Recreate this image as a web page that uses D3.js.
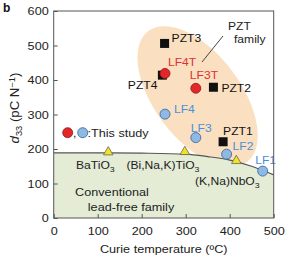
<!DOCTYPE html>
<html>
<head>
<meta charset="utf-8">
<script src="https://cdn.jsdelivr.net/npm/d3@7"></script>
<style>
  body { margin: 0; background: #fff; }
  svg { display: block; }
  text { font-family: "Liberation Sans", Arial, sans-serif; }
</style>
</head>
<body>
<div id="chart"></div>
<script>
// PZT ceramics (black squares)
var pztNames = ['PZT3', 'PZT4', 'PZT2', 'PZT1'];
var pztTc = [252, 247, 363, 385];
var pztD33 = [506, 414, 379, 221];

// this study, textured (red)
var lftNames = ['LF4T', 'LF3T'];
var lftTc = [253, 323];
var lftD33 = [419, 376];

// this study, untextured (blue)
var lfNames = ['LF4', 'LF3', 'LF2', 'LF1'];
var lfTc = [253, 323, 393, 475];
var lfD33 = [301, 233, 185, 136];

// conventional lead-free (yellow triangles)
var leadFreeTc = [124, 298, 415];
var leadFreeD33 = [188, 189, 163];

// boundary of the conventional lead-free region
var boundTc = [0, 100, 200, 300, 350, 400, 450, 500];
var boundD33 = [189, 189, 188, 185, 178, 168, 150, 125];

var xTicks = [0, 100, 200, 300, 400, 500];
var yTicks = [0, 100, 200, 300, 400, 500, 600];

var W = 286, H = 257;
var sx = 1.1; // text in the figure is a bit wide
var margin = {left: 53.7, right: 12.3, top: 11, bottom: 39};

var svg = d3.select('#chart').append('svg')
	.attr('width', W)
	.attr('height', H);

var x = d3.scaleLinear().domain([0, 500]).range([margin.left, W - margin.right]);
var y = d3.scaleLinear().domain([0, 600]).range([H - margin.bottom, margin.top]);

function label(g, px, py, str, color, anchor, size) {
	return g.append('text')
		.attr('transform', 'translate(' + px + ',' + py + ') scale(' + sx + ',1)')
		.attr('font-size', (size || 11) + 'px')
		.attr('fill', color || '#222')
		.attr('text-anchor', anchor || 'start')
		.text(str);
}

var plot = svg.append('g');

// clip to the frame
svg.append('defs').append('clipPath').attr('id', 'frame')
	.append('rect')
	.attr('x', x(0)).attr('y', y(600))
	.attr('width', x(500) - x(0)).attr('height', y(0) - y(600));

var shade = plot.append('g').attr('clip-path', 'url(#frame)');

// PZT family ellipse
var ec = [x(327), y(352)];
shade.append('ellipse')
	.attr('cx', 0).attr('cy', 0)
	.attr('rx', 82).attr('ry', 43)
	.attr('transform', 'translate(' + ec[0] + ',' + ec[1] + ') rotate(53)')
	.style('fill', '#fadfc1');

// lead-free region
var bound = boundTc.map(function(t, i) { return [t, boundD33[i]]; });
shade.append('path')
	.datum(bound)
	.attr('d', d3.area().x(function(d) { return x(d[0]); }).y0(y(0)).y1(function(d) { return y(d[1]); }).curve(d3.curveMonotoneX))
	.style('fill', '#e4ecd6');
shade.append('path')
	.datum(bound)
	.attr('d', d3.line().x(function(d) { return x(d[0]); }).y(function(d) { return y(d[1]); }).curve(d3.curveMonotoneX))
	.style('fill', 'none')
	.style('stroke', '#555')
	.style('stroke-width', 1.2);

// axes
var xAxis = svg.append('g')
	.attr('transform', 'translate(0,' + y(0) + ')')
	.call(d3.axisBottom(x).tickValues(xTicks).tickSizeInner(-4).tickSizeOuter(0).tickPadding(9));
var yAxis = svg.append('g')
	.attr('transform', 'translate(' + x(0) + ',0)')
	.call(d3.axisLeft(y).tickValues(yTicks).tickSizeInner(-4).tickSizeOuter(0).tickPadding(5));

[xAxis, yAxis].forEach(function(a) {
	a.select('.domain').remove();
	a.selectAll('line').attr('stroke', '#555');
	a.selectAll('text')
		.attr('font-size', '11.5px')
		.attr('font-family', '"Liberation Sans", Arial, sans-serif')
		.attr('fill', '#222')
		.attr('x', function() { return (+d3.select(this).attr('x') || 0) / sx; })
		.attr('transform', 'scale(' + sx + ',1)');
});

svg.append('rect')
	.attr('x', x(0)).attr('y', y(600))
	.attr('width', x(500) - x(0)).attr('height', y(0) - y(600))
	.style('fill', 'none')
	.style('stroke', '#555')
	.style('stroke-width', 1);

// pointer to the PZT family label
plot.append('line')
	.attr('x1', 223).attr('y1', 36)
	.attr('x2', 202).attr('y2', 62)
	.style('stroke', '#444')
	.style('stroke-width', 1);

// markers
var tri = d3.symbol().type(d3.symbolTriangle).size(40);
plot.selectAll('.tri')
	.data(leadFreeTc)
	.enter()
	.append('path')
	.attr('d', tri)
	.attr('transform', function(d, i) { return 'translate(' + x(d) + ',' + (y(leadFreeD33[i]) - 1) + ')'; })
	.style('fill', '#f3e21d')
	.style('stroke', '#666')
	.style('stroke-width', 0.8);

plot.selectAll('.sq')
	.data(pztTc)
	.enter()
	.append('rect')
	.attr('x', function(d) { return x(d) - 4.5; })
	.attr('y', function(d, i) { return y(pztD33[i]) - 4.5; })
	.attr('width', 9).attr('height', 9)
	.style('fill', '#111');

plot.selectAll('.red')
	.data(lftTc)
	.enter()
	.append('circle')
	.attr('cx', function(d) { return x(d); })
	.attr('cy', function(d, i) { return y(lftD33[i]); })
	.attr('r', 5)
	.style('fill', '#e3262a')
	.style('stroke', '#8a1a1a')
	.style('stroke-width', 0.8);

plot.selectAll('.blue')
	.data(lfTc)
	.enter()
	.append('circle')
	.attr('cx', function(d) { return x(d); })
	.attr('cy', function(d, i) { return y(lfD33[i]); })
	.attr('r', 5)
	.style('fill', '#8fb9e3')
	.style('stroke', '#3d6da3')
	.style('stroke-width', 0.9);

// point labels (offsets in px from the marker)
var pztOff = {PZT3: [7, -1.5, 'start'], PZT4: [-5, 14, 'end'], PZT2: [8, 4.5, 'start'], PZT1: [0, -6.5, 'start']};
pztNames.forEach(function(n, i) {
	var o = pztOff[n];
	label(plot, x(pztTc[i]) + o[0], y(pztD33[i]) + o[1], n, '#111', o[2]);
});
var lftOff = {LF4T: [3, -7], LF3T: [-6, -9]};
lftNames.forEach(function(n, i) {
	var o = lftOff[n];
	label(plot, x(lftTc[i]) + o[0], y(lftD33[i]) + o[1], n, '#e03030');
});
var lfOff = {LF4: [9, -1], LF3: [-5, -6], LF2: [6, -4.5], LF1: [-7.5, -7]};
lfNames.forEach(function(n, i) {
	var o = lfOff[n];
	label(plot, x(lfTc[i]) + o[0], y(lfD33[i]) + o[1], n, '#4a90d6');
});

label(plot, 228, 30, 'PZT');
label(plot, 234, 43, 'family');

// compound names with subscripts
function chem(px, py, parts) {
	var t = label(plot, px, py, '');
	parts.forEach(function(p) {
		var s = t.append('tspan').text(p[0]);
		if (p[1]) s.attr('font-size', '8px').attr('dy', 3);
	});
}
chem(76, 169, [['BaTiO'], ['3', true]]);
chem(126.5, 169, [['(Bi,Na,K)TiO'], ['3', true]]);
chem(195, 184.5, [['(K,Na)NbO'], ['3', true]]);

label(plot, 112, 196, 'Conventional', '#222', 'middle', 11.5);
label(plot, 131, 211, 'lead-free family', '#222', 'middle', 11.5);

// legend
plot.append('circle').attr('cx', 67.7).attr('cy', 132.7).attr('r', 5)
	.style('fill', '#e3262a').style('stroke', '#8a1a1a').style('stroke-width', 0.8);
label(plot, 73, 136.5, ',');
plot.append('circle').attr('cx', 82.7).attr('cy', 132.7).attr('r', 5)
	.style('fill', '#8fb9e3').style('stroke', '#3d6da3').style('stroke-width', 0.9);
label(plot, 87.5, 136.5, ':This study', '#222', 'start', 11.5);

// axis titles
label(svg, (x(0) + x(500)) / 2, 253, 'Curie temperature (\u00baC)', '#222', 'middle', 11.5);

var yt = svg.append('text')
	.attr('transform', 'translate(19,108) rotate(-90) scale(' + sx + ',1)')
	.attr('font-size', '12px')
	.attr('fill', '#222')
	.attr('text-anchor', 'middle');
yt.append('tspan').attr('font-style', 'italic').text('d');
yt.append('tspan').attr('font-size', '8.5px').attr('dy', 3).text('33');
yt.append('tspan').attr('dy', -3).text(' (pC N');
yt.append('tspan').attr('font-size', '8.5px').attr('dy', -4).text('\u22121');
yt.append('tspan').attr('dy', 4).text(')');

svg.append('text')
	.attr('x', 3).attr('y', 12)
	.attr('font-size', '12px')
	.attr('font-weight', 'bold')
	.attr('fill', '#111')
	.text('b');
</script>
</body>
</html>
